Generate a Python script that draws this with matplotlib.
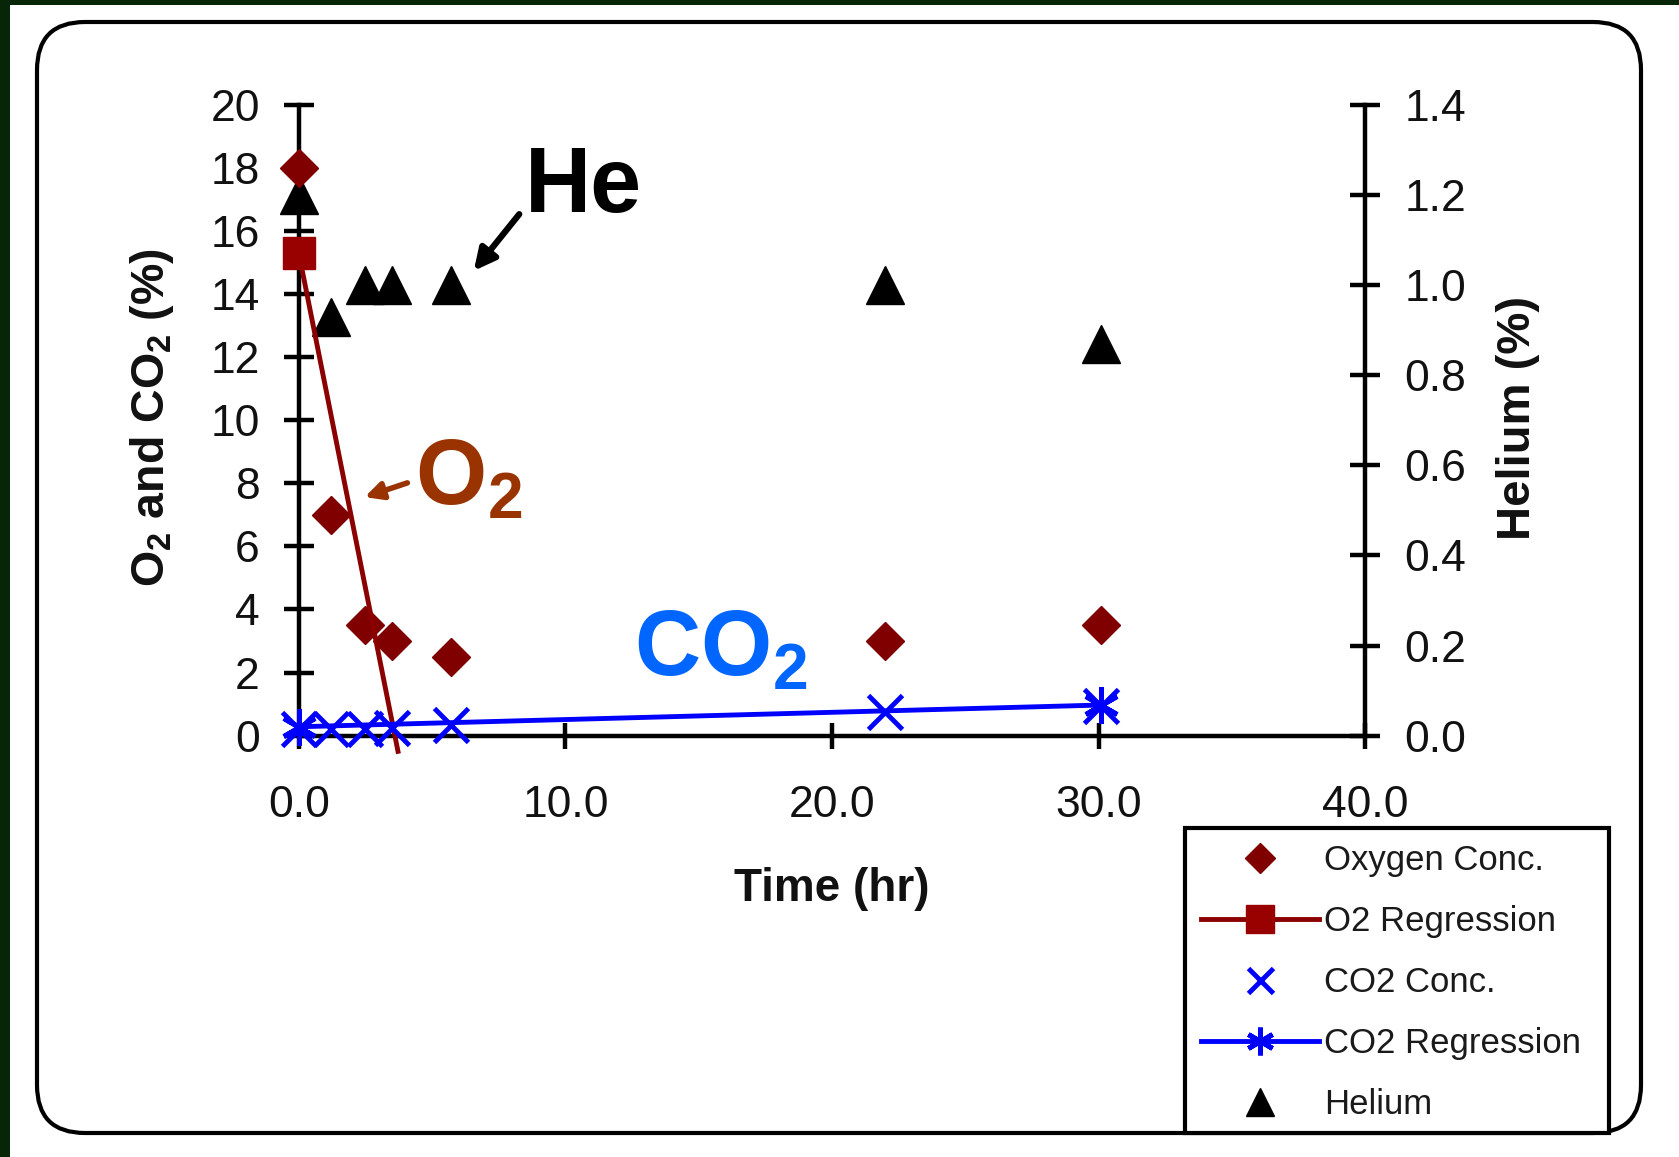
import matplotlib
matplotlib.use("Agg")
import matplotlib.pyplot as plt
from matplotlib.lines import Line2D
from matplotlib.patches import FancyBboxPatch, Rectangle
from matplotlib.transforms import IdentityTransform

plt.rcParams['font.family'] = ['Liberation Sans', 'DejaVu Sans']
plt.rcParams['mathtext.fontset'] = 'custom'
plt.rcParams['mathtext.rm'] = 'Liberation Sans'
plt.rcParams['mathtext.bf'] = 'Liberation Sans:bold'

# ---- data ----
time_hr = [0.0, 1.2, 2.5, 3.5, 5.7, 22.0, 30.1]
oxygen_conc = [18.0, 7.0, 3.5, 3.0, 2.5, 3.0, 3.5]
co2_conc = [0.22, 0.2, 0.2, 0.25, 0.35, 0.75, 0.95]
helium = [1.2, 0.93, 1.0, 1.0, 1.0, 1.0, 0.87]
o2_reg_t = [0.0, 3.72]
o2_reg_v = [15.3, -0.5]
co2_reg_t = [0.0, 30.1]
co2_reg_v = [0.28, 0.97]
xticks = [0, 10, 20, 30, 40]
xticklabels = ['0.0', '10.0', '20.0', '30.0', '40.0']
yticks_left = [0, 2, 4, 6, 8, 10, 12, 14, 16, 18, 20]
yticks_right = [0.0, 0.2, 0.4, 0.6, 0.8, 1.0, 1.2, 1.4]

W, H = 1679, 1157
fig = plt.figure(figsize=(W / 100, H / 100), dpi=100, facecolor='#072607')

def fx(x):
    return x / W

def fy(y):
    return 1 - y / H

# white page and rounded box
fig.patches.append(Rectangle((10, 0), W - 10, H - 5, transform=IdentityTransform(),
                             facecolor='white', edgecolor='none', zorder=-30))
fig.patches.append(FancyBboxPatch((37, H - 1133), 1604, 1111,
                                  boxstyle='round,pad=0,rounding_size=48',
                                  transform=IdentityTransform(),
                                  facecolor='white', edgecolor='black', lw=3, zorder=-20))

ax = fig.add_axes([fx(298.8), fy(735.6), fx(1365.3) - fx(298.8), fy(105) - fy(735.6)])
ax.set_facecolor('none')
ax2 = ax.twinx()
ax.set_zorder(ax2.get_zorder() + 1)
ax.patch.set_visible(False)

ax.set_xlim(0, 40)
ax.set_ylim(0, 20)
ax2.set_ylim(0, 1.4)

dark_red = '#800000'
blue = '#0000FF'

# helium on right axis
ax2.plot(time_hr, helium, linestyle='none', marker='^', markersize=27,
         color='black', clip_on=False, zorder=3)

ax.plot(time_hr, oxygen_conc, linestyle='none', marker='D', markersize=19,
        color=dark_red, clip_on=False, zorder=3)
ax.plot(o2_reg_t, o2_reg_v, color='#8B0000', lw=3.5, marker='s', markersize=23,
        markevery=[0], markerfacecolor='#990000', markeredgecolor='#990000',
        clip_on=False, zorder=4)
ax.plot(time_hr, co2_conc, linestyle='none', marker='x', markersize=24, mew=3.5,
        color=blue, clip_on=False, zorder=5)
ax.plot(co2_reg_t, co2_reg_v, color=blue, lw=3.5, marker=(6, 2, 0), markersize=26,
        mew=3.5, clip_on=False, zorder=5)

for a in (ax, ax2):
    for s in a.spines.values():
        s.set_linewidth(3.2)
    a.spines['top'].set_visible(False)
ax.spines['right'].set_visible(False)
ax2.spines['left'].set_visible(False)
ax2.spines['bottom'].set_visible(False)

ax.set_xticks(xticks)
ax.set_xticklabels(xticklabels)
ax.set_yticks(yticks_left)
ax.set_yticklabels([str(v) for v in yticks_left])
ax2.set_yticks(yticks_right)
ax2.set_yticklabels([f'{v:.1f}' for v in yticks_right])

ax.tick_params(axis='y', direction='inout', length=22, width=3.2, pad=17,
               labelsize=32, labelcolor='#111111')
ax.tick_params(axis='x', direction='inout', length=19, width=3.2, pad=26,
               labelsize=32, labelcolor='#111111')
ax2.tick_params(axis='y', direction='inout', length=22, width=3.2, pad=17,
                labelsize=32, labelcolor='#111111')

# axis titles
fig.text(fx(152), fy(418), r'$\mathbf{O_2}$ and $\mathbf{CO_2}$ (%)', rotation=90,
         ha='center', va='center', fontsize=33.5, fontweight='bold', color='#111111')
fig.text(fx(1518), fy(418), 'Helium (%)', rotation=90, ha='center', va='center',
         fontsize=34, fontweight='bold', color='#111111')
fig.text(fx(832), fy(889), 'Time (hr)', ha='center', va='center',
         fontsize=33, fontweight='bold', color='#111111')

# annotations
fig.text(fx(525), fy(212), 'He', ha='left', va='baseline', fontsize=66,
         fontweight='bold', color='black')
ax.annotate('', xy=(472, H - 273), xycoords='figure pixels',
            xytext=(521, H - 212), textcoords='figure pixels',
            arrowprops=dict(arrowstyle='-|>', color='black', lw=4.5, mutation_scale=32))
fig.text(fx(415), fy(504), r'$\mathbf{O_2}$', ha='left', va='baseline', fontsize=66,
         color='#993300')
ax.annotate('', xy=(362, H - 498), xycoords='figure pixels',
            xytext=(410, H - 482), textcoords='figure pixels',
            arrowprops=dict(arrowstyle='-|>', color='#993300', lw=4, mutation_scale=26))
fig.text(fx(634), fy(675), r'$\mathbf{CO_2}$', ha='left', va='baseline', fontsize=66,
         color='#0066FF')

# legend
fig.patches.append(Rectangle((1185, H - 1133), 424, 305, transform=IdentityTransform(),
                             facecolor='white', edgecolor='black', lw=3, zorder=5))
handles = [
    Line2D([], [], linestyle='none', marker='D', markersize=15, color=dark_red),
    Line2D([], [], color='#8B0000', lw=3.5, marker='s', markersize=20,
           markerfacecolor='#990000', markeredgecolor='#990000'),
    Line2D([], [], linestyle='none', marker='x', markersize=18, mew=3.5, color=blue),
    Line2D([], [], color=blue, lw=3.5, marker=(6, 2, 0), markersize=20, mew=3.5),
    Line2D([], [], linestyle='none', marker='^', markersize=20, color='black'),
]
labels = ['Oxygen Conc.', 'O2 Regression', 'CO2 Conc.', 'CO2 Regression', 'Helium']
leg = fig.legend(handles, labels, loc='upper left',
                 bbox_to_anchor=(fx(1201), fy(844)), frameon=False,
                 fontsize=25, borderpad=0, borderaxespad=0, handlelength=3.4,
                 handletextpad=0.15, labelspacing=0.81, labelcolor='#1a1a1a')
leg.set_zorder(6)

fig.savefig('out.png', dpi=100, facecolor=fig.get_facecolor())
